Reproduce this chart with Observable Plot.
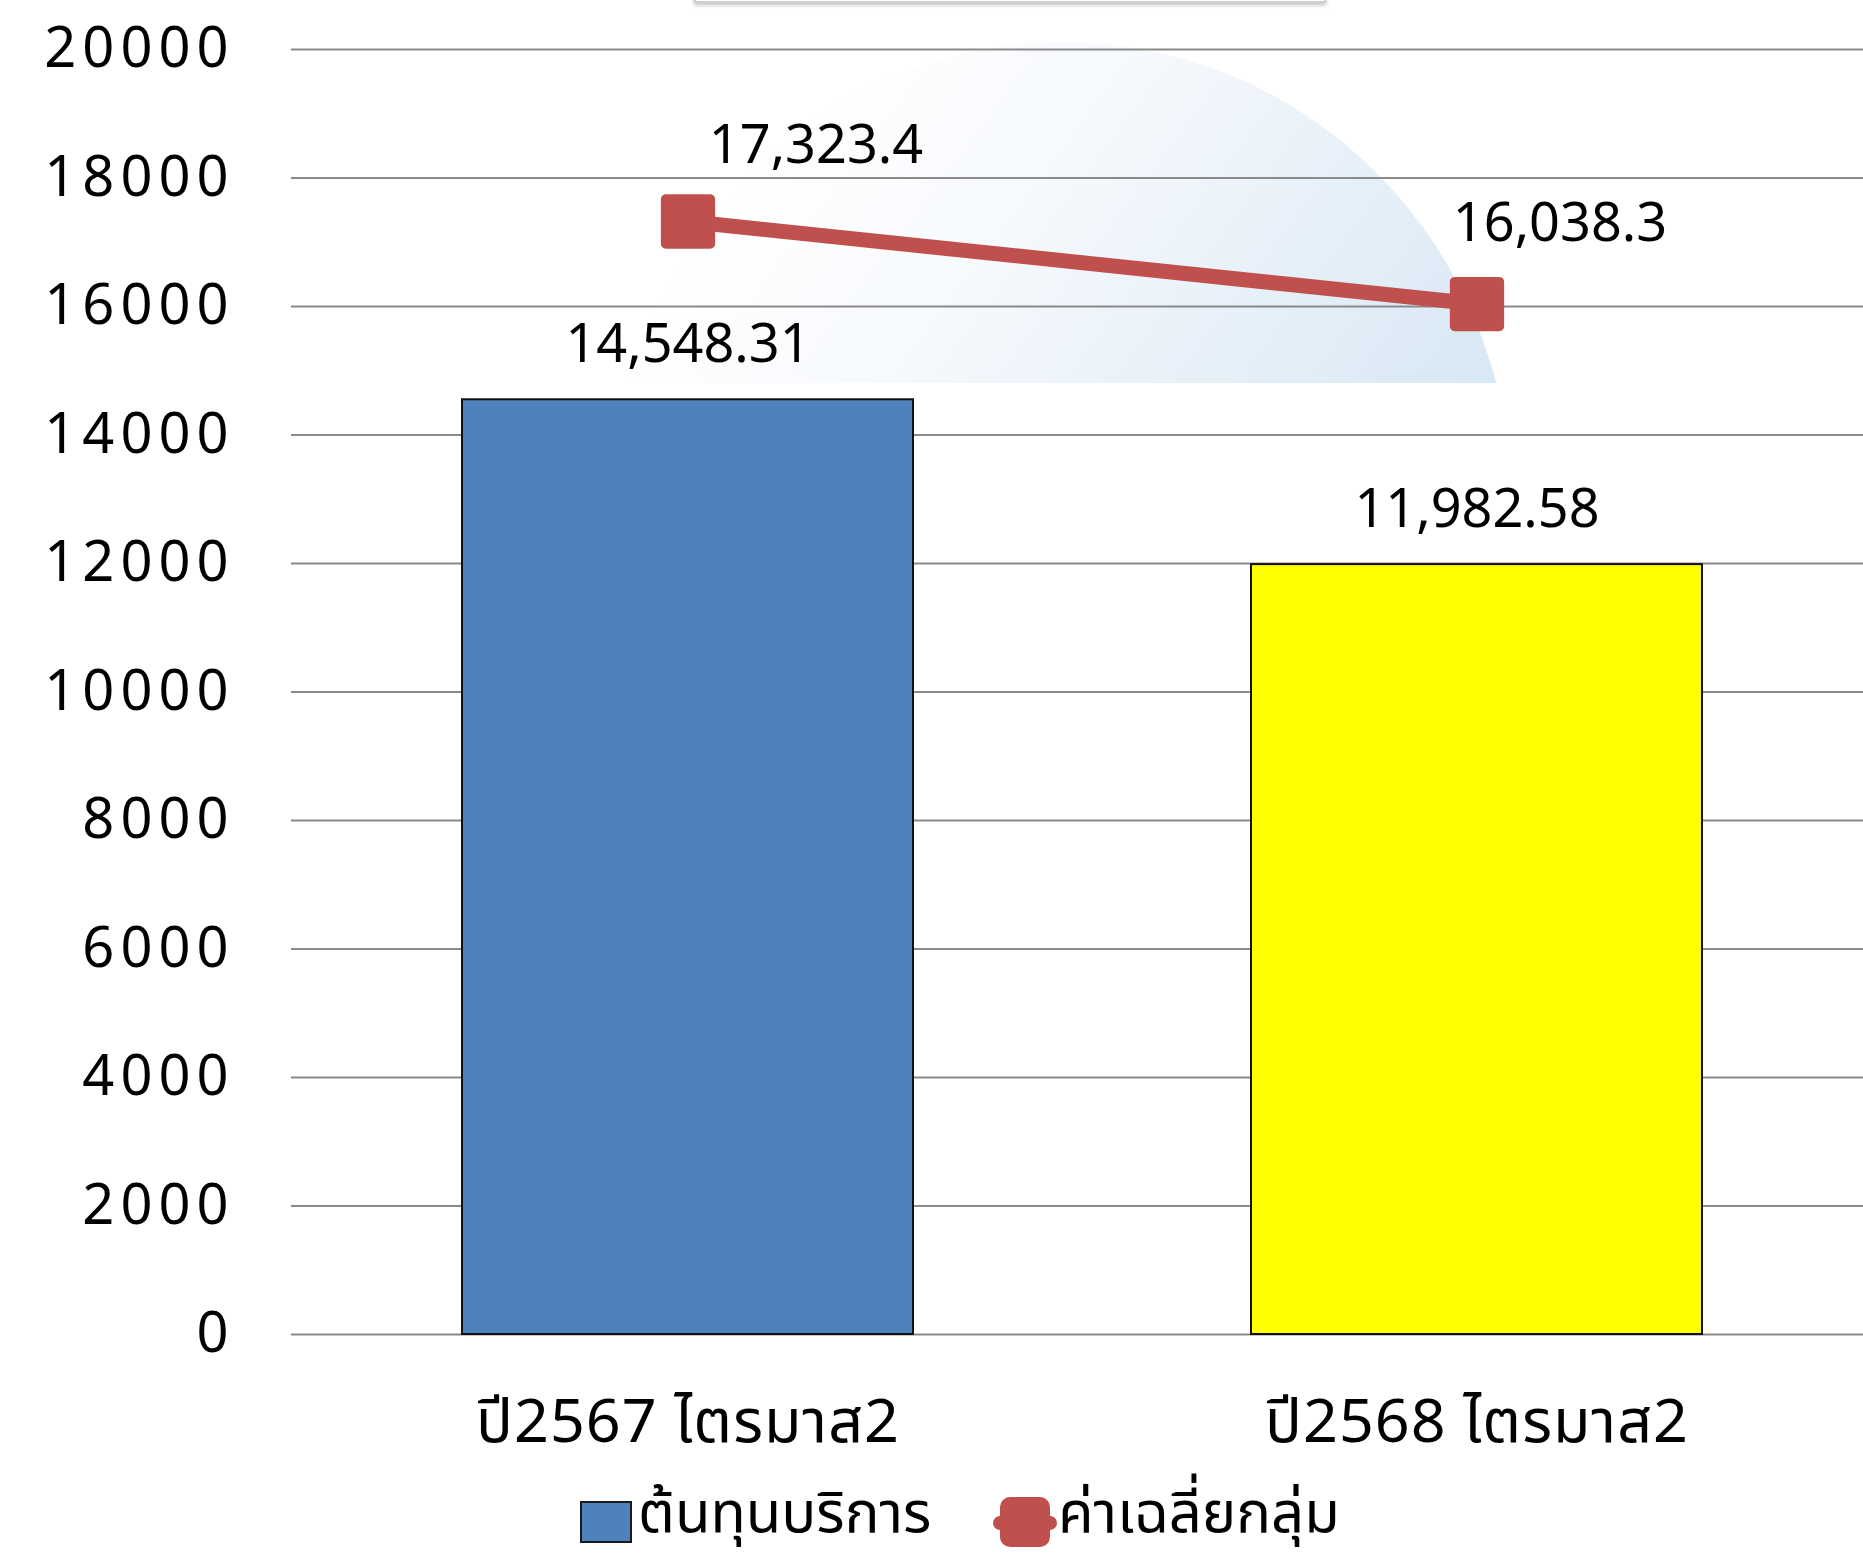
<!DOCTYPE html>
<html>
<head>
<meta charset="utf-8">
<script src="https://cdn.jsdelivr.net/npm/d3@7"></script>
<script src="https://cdn.jsdelivr.net/npm/@observablehq/plot@0.6"></script>
<style>
  html, body { margin: 0; padding: 0; background: #fff; overflow: hidden; }
  #wrap { position: relative; width: 1863px; height: 1560px; }
  #bg { position: absolute; left: 0; top: 0; }
  #chart { position: absolute; left: 0; top: 0; }
  #chart g[aria-label="y-axis tick label"] text { letter-spacing: 6px; }
  #chart g[aria-label="x-axis tick label"] text { letter-spacing: 1px; }
  #legend {
    position: absolute; left: 0; top: 1482px; width: 1863px; height: 70px;
    font-family: "Noto Sans Thai", "Noto Sans Thai UI", "Noto Sans", sans-serif;
    font-size: 58px; color: #000; line-height: 70px;
  }
  .item { position: absolute; top: 4px; white-space: nowrap; }
  .sw-bar { position: absolute; left: 580px; top: 26px; width: 52px; height: 42px; background: #4F81BD; border: 2px solid #1a1a1a; box-sizing: border-box; }
  .sw-line { position: absolute; left: 993px; top: 41px; width: 64px; height: 14px; background: #C0504D; border-radius: 7px; }
  .sw-mark { position: absolute; left: 1000px; top: 22px; width: 50px; height: 50px; background: #C0504D; border-radius: 10px; }
</style>
</head>
<body>
<div id="wrap">
  <svg id="bg" width="1863" height="1560">
    <defs>
      <linearGradient id="dome" x1="0.1" y1="0.2" x2="0.95" y2="0.85">
        <stop offset="0" stop-color="#ffffff"/>
        <stop offset="0.25" stop-color="#f6f9fd"/>
        <stop offset="1" stop-color="#c9dff0"/>
      </linearGradient>
      <clipPath id="domeClip"><rect x="0" y="0" width="1863" height="383"/></clipPath>
    </defs>
    <ellipse cx="1063" cy="500" rx="448" ry="458" fill="url(#dome)" clip-path="url(#domeClip)"/>
    <rect x="695" y="-30" width="630" height="32" fill="#fff" stroke="#cfcfcf" stroke-width="2" style="filter: drop-shadow(0 2px 2px rgba(0,0,0,0.25))"/>
  </svg>
  <div id="chart"></div>
  <div id="legend">
    <div class="sw-bar"></div>
    <div class="item" style="left:638px">ต้นทุนบริการ</div>
    <div class="sw-line"></div>
    <div class="sw-mark"></div>
    <div class="item" style="left:1058px">ค่าเฉลี่ยกลุ่ม</div>
  </div>
</div>
<script>
const categories = ["ปี2567 ไตรมาส2", "ปี2568 ไตรมาส2"];
const serviceCost = [14548.31, 11982.58];
const groupAverage = [17323.4, 16038.3];
const yTicks = [0, 2000, 4000, 6000, 8000, 10000, 12000, 14000, 16000, 18000, 20000];
const seriesNames = ["ต้นทุนบริการ", "ค่าเฉลี่ยกลุ่ม"];

const barColors = ["#4F81BD", "#FFFF00"];
const lineColor = "#C0504D";

const bars = categories.map((c, i) => ({category: c, value: serviceCost[i], series: seriesNames[0], fill: barColors[i]}));
const avg = categories.map((c, i) => ({category: c, value: groupAverage[i], series: seriesNames[1]}));

const fmt = d3.format(",");
const font = '"Noto Sans Thai", "Noto Sans Thai UI", "Noto Sans", sans-serif';

const chart = Plot.plot({
  width: 1863,
  height: 1480,
  marginTop: 49,
  marginBottom: 146,
  marginLeft: 291,
  marginRight: 0,
  style: {background: "transparent", fontFamily: font, fontSize: "54px", color: "#000"},
  x: {domain: categories, paddingInner: 0.428, paddingOuter: 0.209, align: 0.515, label: null},
  y: {domain: [0, 20000], label: null},
  marks: [
    Plot.ruleY(yTicks, {stroke: "#8a8a8a", strokeWidth: 2.2}),
    Plot.axisY({ticks: yTicks, tickFormat: d => String(d), tickSize: 0, tickPadding: 57, fontSize: 56, label: null}),
    Plot.axisX({tickSize: 0, tickPadding: 64, fontSize: 61, label: null}),
    Plot.barY(bars, {x: "category", y: "value", fill: "fill", stroke: "#111", strokeWidth: 2}),
    Plot.text(bars, {x: "category", y: "value", text: d => fmt(d.value), dy: -55, fontSize: 54, lineAnchor: "middle", fill: "#000"}),
    Plot.line(avg, {x: "category", y: "value", stroke: lineColor, strokeWidth: 15}),
    Plot.dot(avg, {x: "category", y: "value", symbol: "square", r: 25, fill: lineColor, stroke: lineColor, strokeWidth: 10, strokeLinejoin: "round"}),
    Plot.text(avg.filter((d, i) => i === 0), {x: "category", y: "value", text: d => fmt(d.value), dx: 128, dy: -76, fontSize: 54, lineAnchor: "middle", fill: "#000"}),
    Plot.text(avg.filter((d, i) => i === 1), {x: "category", y: "value", text: d => fmt(d.value), dx: 83, dy: -80, fontSize: 54, lineAnchor: "middle", fill: "#000"})
  ]
});
document.getElementById("chart").appendChild(chart);

// Keep the legend's text boxes fully inside the page.
function fitLegend() {
  const legend = document.getElementById("legend");
  let overflow = 0;
  legend.querySelectorAll(".item").forEach(el => {
    const r = document.createRange();
    r.selectNodeContents(el);
    const rect = r.getBoundingClientRect();
    overflow = Math.max(overflow, rect.bottom - 1558, el.getBoundingClientRect().bottom - 1558);
  });
  if (overflow > 0) legend.style.top = (1482 - Math.ceil(overflow)) + "px";
}
fitLegend();
if (document.fonts && document.fonts.ready) document.fonts.ready.then(fitLegend);
</script>
</body>
</html>
